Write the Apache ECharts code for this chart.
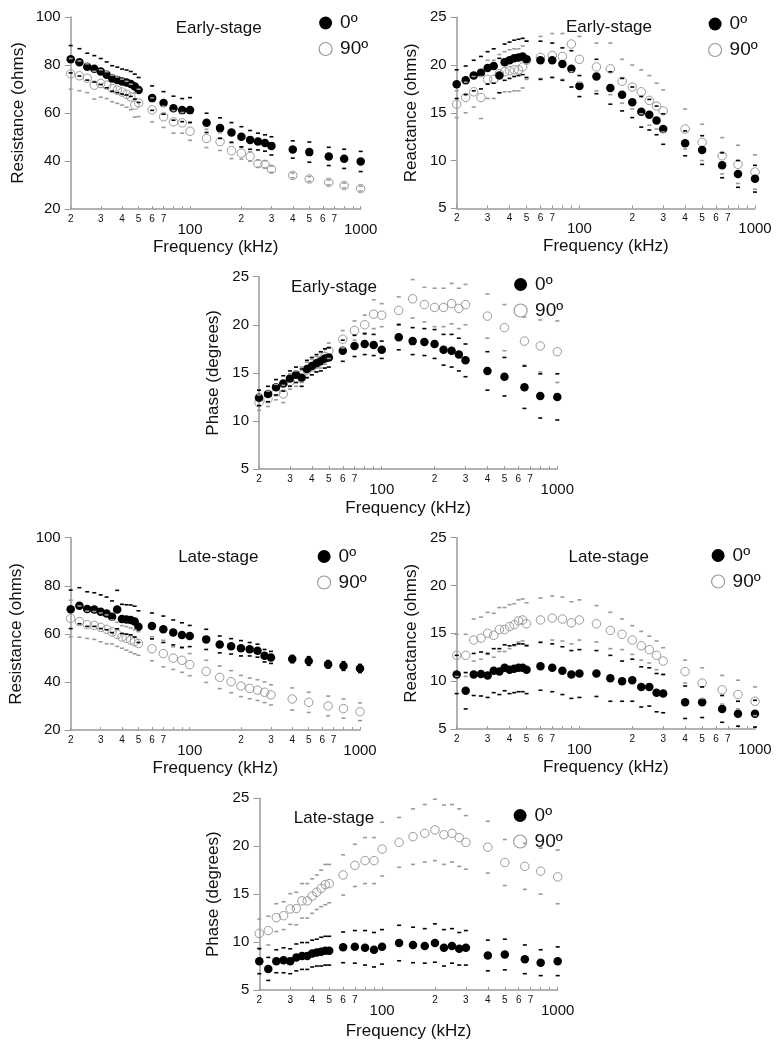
<!DOCTYPE html>
<html>
<head>
<meta charset="utf-8">
<script src="https://cdn.jsdelivr.net/npm/echarts@6/dist/echarts.min.js"></script>
<style>
html,body{margin:0;padding:0;background:#fff;}
#chart{width:782px;height:1050px;}
</style>
</head>
<body>
<div id="chart"></div>
<script>
// ---------- data ----------
const freqs = [20,22.5,25,27.5,30,32.5,35,37.5,40,42.5,45,47.5,50,60,70,80,90,100,125,150,175,200,225,250,275,300,400,500,650,800,1000];
const xLabelValues = [20,30,40,50,60,70,100,200,300,400,500,600,700,1000];
const xTickValues = [20,30,40,50,60,70,80,90,100,200,300,400,500,600,700,800,900,1000];

// Early-stage resistance (ohms)
const resEarly0  = [82.4,81.1,79.3,78.4,77.3,75.9,74.4,73.8,73.1,72.7,72.1,71.0,69.6,66.2,64.2,62.0,61.2,61.2,55.9,53.7,51.9,50.1,48.8,48.1,47.5,46.3,44.8,43.7,41.9,40.9,39.8];
const resEarly0sd = [5.7,5.7,5.6,5.5,5.4,5.4,5.3,5.3,5.2,5.2,5.2,5.2,5.2,5.1,4.7,5.0,4.8,5.2,4.0,4.3,4.1,4.2,3.9,3.5,3.4,3.8,3.6,4.2,3.8,4.0,4.2];
const resEarly90 = [76.3,75.5,74.5,71.6,72.3,71.6,70.2,69.5,68.7,67.8,66.7,63.3,64.2,61.3,58.4,56.3,55.9,52.4,49.4,48.1,44.3,43.3,41.9,38.9,38.6,36.6,34.0,32.5,31.1,29.8,28.5];
const resEarly90sd = [6.4,6.2,6.0,5.8,5.7,5.6,5.5,5.5,5.4,5.4,5.3,5.0,5.7,5.0,4.4,4.7,4.3,3.8,3.8,3.7,3.3,2.5,2.0,1.5,1.5,1.3,1.0,1.0,1.0,1.0,1.0];

// Early-stage reactance (ohms)
const reaEarly0  = [18.0,18.4,18.9,19.2,19.7,19.9,18.9,20.3,20.5,20.7,20.8,20.9,20.6,20.5,20.5,20.1,19.6,17.8,18.8,17.6,16.9,16.1,15.1,14.8,14.2,13.3,11.8,11.1,9.5,8.6,8.1];
const reaEarly0sd = [1.5,1.5,1.6,1.7,1.7,1.8,1.8,1.9,1.9,1.9,1.9,1.9,1.9,2.0,1.8,1.7,1.9,1.1,1.8,1.7,1.7,1.6,1.6,1.6,1.5,1.6,1.3,1.5,1.3,1.4,1.4];
const reaEarly90 = [15.9,16.6,17.2,16.6,18.5,18.5,19.1,19.3,19.4,19.5,19.5,19.8,20.5,20.8,21.0,20.9,22.2,20.6,19.8,19.6,18.3,17.7,17.2,16.3,15.7,15.2,13.3,11.9,10.5,9.6,8.8];
const reaEarly90sd = [1.4,1.6,1.6,2.2,2.0,2.0,2.0,2.1,2.2,2.2,2.2,2.2,2.0,2.2,2.3,2.4,2.9,2.4,2.5,2.7,2.3,2.3,2.3,2.6,2.4,2.2,2.1,1.9,1.9,2.0,1.8];

// Early-stage phase (degrees)
const phEarly0  = [12.4,12.8,13.5,13.9,14.4,14.8,14.5,15.4,15.7,16.0,16.2,16.5,16.6,17.3,17.8,18.0,17.9,17.4,18.7,18.3,18.2,18.0,17.4,17.3,16.9,16.3,15.2,14.6,13.5,12.6,12.5];
const phEarly0sd = [0.8,0.8,0.8,0.8,0.8,0.8,0.9,0.9,0.9,0.9,1.0,1.0,1.0,1.1,1.1,1.1,1.1,0.9,1.3,1.4,1.4,1.5,1.6,1.7,1.7,1.7,2.0,2.0,2.2,2.3,2.4];
const phEarly90 = [11.9,12.3,13.0,12.8,14.1,14.4,14.8,15.3,15.6,15.9,16.3,16.7,17.3,18.5,19.4,20.0,21.1,21.0,21.5,22.7,22.1,21.8,21.8,22.2,21.7,22.1,20.9,19.7,18.3,17.8,17.2];
const phEarly90sd = [0.8,0.8,0.8,0.9,0.8,0.8,0.8,0.8,0.8,0.8,0.8,0.8,0.8,0.9,1.0,1.0,1.5,1.2,1.4,2.0,1.8,2.0,2.0,2.1,2.1,2.1,2.3,2.4,2.5,2.7,3.2];

// Late-stage resistance (ohms)
const resLate0  = [70.2,71.7,70.3,70.1,69.2,68.5,67.1,70.1,66.2,66.0,65.8,65.1,63.0,63.3,61.9,60.6,59.5,59.1,57.7,55.6,54.8,54.0,53.6,53.0,50.9,50.2,49.5,48.7,47.3,46.6,45.6];
const resLate0sd = [8.0,7.5,7.2,7.0,7.0,6.8,6.6,8.0,6.1,6.1,6.2,6.4,6.6,5.4,5.5,5.2,5.1,4.4,4.2,3.5,3.2,3.2,2.8,2.7,2.6,2.5,1.5,1.8,1.6,1.8,1.7];
const resLate90 = [66.4,65.1,63.8,63.5,62.7,61.9,60.8,59.8,58.7,58.1,57.4,56.7,56.0,53.8,51.8,49.9,49.0,47.2,44.4,41.9,40.1,38.3,37.3,36.6,35.7,34.6,32.9,31.5,30.0,28.9,27.6];
const resLate90sd = [7.6,6.5,5.7,5.8,6.0,6.0,5.0,5.0,4.7,4.9,5.0,5.0,4.9,5.0,5.5,4.7,5.0,4.6,4.6,4.7,4.6,4.4,4.3,4.3,4.3,4.2,4.6,4.2,4.1,4.0,3.7];

// Late-stage reactance (ohms)
const reaLate0  = [10.7,9.0,10.7,10.75,10.6,11.1,11.0,11.4,11.2,11.3,11.4,11.4,11.2,11.55,11.4,11.1,10.7,10.8,10.8,10.3,10.0,10.1,9.4,9.4,8.8,8.7,7.8,7.8,7.1,6.6,6.6];
const reaLate0sd = [2.0,1.9,2.2,2.3,2.3,2.3,2.4,2.4,2.5,2.5,2.5,2.5,2.5,2.5,2.5,2.5,2.5,2.5,2.4,2.4,2.1,2.2,2.1,2.0,2.0,2.0,1.7,1.6,1.4,1.3,1.4];
const reaLate90 = [12.7,12.7,14.3,14.5,15.0,14.8,15.4,15.4,15.7,15.9,16.3,16.4,16.0,16.4,16.6,16.5,16.1,16.4,16.0,15.3,14.9,14.3,13.7,13.3,12.7,12.1,11.0,9.8,9.1,8.6,7.9];
const reaLate90sd = [2.2,2.2,2.2,2.2,2.2,2.3,2.3,2.3,2.3,2.2,2.2,2.2,2.2,2.3,2.3,2.3,2.2,2.1,1.9,1.9,1.6,1.5,1.5,1.4,1.5,1.4,1.2,1.6,1.5,1.5,1.5];

// Late-stage phase (degrees)
const phLate0  = [8.0,7.2,8.0,8.1,8.0,8.4,8.55,8.55,8.8,8.9,9.0,9.1,9.1,9.45,9.5,9.4,9.2,9.5,9.9,9.7,9.6,9.9,9.4,9.6,9.3,9.4,8.6,8.7,8.2,7.85,8.0];
const phLate0sd = [1.3,1.2,1.2,1.3,1.3,1.4,1.4,1.4,1.4,1.4,1.5,1.5,1.5,1.6,1.7,1.8,1.8,1.8,1.85,1.85,1.8,2.0,1.9,1.8,1.7,1.8,1.6,1.6,1.5,1.35,1.5];
const phLate90 = [10.9,11.2,12.55,12.75,13.45,13.5,14.3,14.3,14.8,15.2,15.6,16.0,16.1,17.0,18.0,18.5,18.5,19.7,20.4,21.0,21.35,21.7,21.2,21.35,20.9,20.4,19.9,18.3,17.9,17.4,16.8];
const phLate90sd = [1.5,1.5,1.45,1.45,1.6,1.7,1.8,1.8,1.8,1.8,1.9,2.1,2.0,2.1,2.2,2.4,2.4,2.8,2.6,2.9,3.0,3.2,3.1,3.0,3.0,2.8,2.7,2.4,2.4,2.4,2.8];

const seriesNames = ['0º','90º'];
const stageNames = ['Early-stage','Late-stage'];
const yTitles = ['Resistance (ohms)','Reactance (ohms)','Phase (degrees)'];

// ---------- layout ----------
const FONT = '"Liberation Sans", Arial, Helvetica, sans-serif';
const GRAY = '#9a9a9a';
const panels = [
  {grid:[70.7,17,290,192],    y:[20,100,20], yName:yTitles[0], yGap:44, xGap:29, title:stageNames[0], tpos:[218.7,28.3], leg:[313.5,8.5],  d0:resEarly0, s0:resEarly0sd, d9:resEarly90, s9:resEarly90sd},
  {grid:[456.7,17.3,298.3,191], y:[5,25,5],  yName:yTitles[1], yGap:37, xGap:29, title:stageNames[0], tpos:[609,27.3],  leg:[703,9.5],   d0:reaEarly0, s0:reaEarly0sd, d9:reaEarly90, s9:reaEarly90sd},
  {grid:[259,276.7,298.3,192.3], y:[5,25,5], yName:yTitles[2], yGap:37, xGap:31, title:stageNames[0], tpos:[334,287.3],  leg:[508.5,270], d0:phEarly0, s0:phEarly0sd, d9:phEarly90, s9:phEarly90sd},
  {grid:[70.7,537.7,289.3,192.3], y:[20,100,20], yName:yTitles[0], yGap:46, xGap:29.5, title:stageNames[1], tpos:[218.3,557.7], leg:[312,542], d0:resLate0, s0:resLate0sd, d9:resLate90, s9:resLate90sd},
  {grid:[456.7,537.7,298.3,191.3], y:[5,25,5], yName:yTitles[1], yGap:37, xGap:29, title:stageNames[1], tpos:[608.7,557.7], leg:[706,541], d0:reaLate0, s0:reaLate0sd, d9:reaLate90, s9:reaLate90sd},
  {grid:[259.3,798.3,298.4,191.7], y:[5,25,5], yName:yTitles[2], yGap:37, xGap:33, title:stageNames[1], tpos:[334,818.3], leg:[508,801], d0:phLate0, s0:phLate0sd, d9:phLate90, s9:phLate90sd}
];

function errPts(mean, sd){
  const out = [];
  freqs.forEach((f,i)=>{ out.push([f, mean[i]+sd[i]]); out.push([f, mean[i]-sd[i]]); });
  return out;
}
function pts(mean){ return freqs.map((f,i)=>[f, mean[i]]); }

const grid=[], xAxis=[], yAxis=[], series=[], legend=[], graphic=[];
panels.forEach((p,gi)=>{
  grid.push({left:p.grid[0], top:p.grid[1], width:p.grid[2], height:p.grid[3], containLabel:false});
  xAxis.push({
    type:'log', logBase:10, gridIndex:gi, min:20, max:1000,
    name:'Frequency (kHz)', nameLocation:'middle', nameGap:p.xGap,
    nameTextStyle:{fontSize:17, color:'#111', fontFamily:FONT},
    axisLine:{show:true, onZero:false, lineStyle:{color:GRAY, width:1.5}},
    axisTick:{show:true, inside:true, length:3, customValues:xTickValues, lineStyle:{color:GRAY, width:1}},
    minorTick:{show:false}, splitLine:{show:false},
    axisLabel:{
      customValues:xLabelValues, margin:4, hideOverlap:false, color:'#111', fontFamily:FONT, fontSize:10,
      formatter:function(v){
        const r = Math.round(v);
        if (r===100 || r===1000) return '{b|'+r+'}';
        return '{s|'+String(r).charAt(0)+'}';
      },
      rich:{
        s:{fontSize:10, lineHeight:12, color:'#111', fontFamily:FONT},
        b:{fontSize:15, lineHeight:18, padding:[16,0,0,0], color:'#111', fontFamily:FONT}
      }
    }
  });
  yAxis.push({
    type:'value', gridIndex:gi, min:p.y[0], max:p.y[1], interval:p.y[2],
    name:p.yName, nameLocation:'middle', nameGap:p.yGap,
    nameTextStyle:{fontSize:17, color:'#111', fontFamily:FONT},
    axisLine:{show:true, onZero:false, lineStyle:{color:GRAY, width:1.5}},
    axisTick:{show:true, inside:false, length:6, lineStyle:{color:GRAY, width:1}},
    splitLine:{show:false},
    axisLabel:{fontSize:15, color:'#111', fontFamily:FONT, margin:10}
  });
  series.push({
    name:seriesNames[1], type:'scatter', xAxisIndex:gi, yAxisIndex:gi,
    symbol:'circle', symbolSize:8.5, data:pts(p.d9), z:2,
    itemStyle:{color:'rgba(255,255,255,0)', borderColor:GRAY, borderWidth:1, opacity:1}
  });
  series.push({
    name:seriesNames[0], type:'scatter', xAxisIndex:gi, yAxisIndex:gi,
    symbol:'circle', symbolSize:8.5, data:pts(p.d0), z:3,
    itemStyle:{color:'#000', opacity:1}
  });
  series.push({
    name:'SD 90º', type:'scatter', xAxisIndex:gi, yAxisIndex:gi,
    symbol:'rect', symbolSize:[4,1.6], data:errPts(p.d9,p.s9), z:4,
    itemStyle:{color:GRAY, opacity:1}, silent:true
  });
  series.push({
    name:'SD 0º', type:'scatter', xAxisIndex:gi, yAxisIndex:gi,
    symbol:'rect', symbolSize:[4,1.6], data:errPts(p.d0,p.s0), z:5,
    itemStyle:{color:'#000', opacity:1}, silent:true
  });
  legend.push({
    left:p.leg[0], top:p.leg[1], orient:'vertical', itemWidth:13, itemHeight:13, itemGap:7,
    selectedMode:false,
    textStyle:{fontSize:19, color:'#111', fontFamily:FONT, padding:[0,0,0,3]},
    data:[
      {name:seriesNames[0], icon:'circle', itemStyle:{color:'#000', borderWidth:0, opacity:1}},
      {name:seriesNames[1], icon:'circle', itemStyle:{color:'rgba(255,255,255,0)', borderColor:GRAY, borderWidth:1.2, opacity:1}}
    ]
  });
  graphic.push({
    type:'text', x:p.tpos[0], y:p.tpos[1],
    style:{text:p.title, fontSize:17, fill:'#111', fontFamily:FONT, textAlign:'center', textVerticalAlign:'middle'}
  });
});

const chart = echarts.init(document.getElementById('chart'), null, {renderer:'canvas'});
chart.setOption({
  backgroundColor:'#fff',
  animation:false,
  textStyle:{fontFamily:FONT},
  grid, xAxis, yAxis, series, legend, graphic
});
</script>
</body>
</html>
